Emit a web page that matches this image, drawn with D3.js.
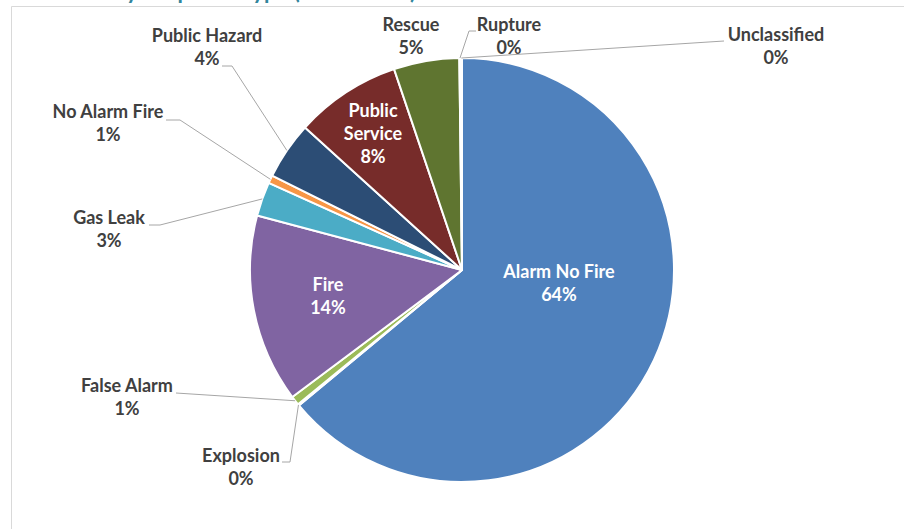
<!DOCTYPE html>
<html>
<head>
<meta charset="utf-8">
<script src="https://cdn.jsdelivr.net/npm/d3@7"></script>
<style>
  html, body { margin: 0; padding: 0; background: #fff; }
  svg { display: block; }
</style>
</head>
<body>
<svg id="chart" width="904" height="529"></svg>
<script>
// Response types, clockwise from 12 o'clock
const categories = ["Alarm No Fire", "Explosion", "False Alarm", "Fire", "Gas Leak",
  "No Alarm Fire", "Public Hazard", "Public Service", "Rescue", "Rupture", "Unclassified"];
// Share of incidents (percent)
const shares = [64.1, 0.1, 0.7, 14.4, 2.6, 0.6, 4.4, 8.1, 5.0, 0.1, 0.1];
const sliceColors = ["#4F81BD", "#C0504D", "#9BBB59", "#8064A2", "#4BACC6", "#F79646",
  "#2C4D75", "#772C2A", "#5F7530", "#4D3B62", "#276A7C"];
const titleText = "Incidents by Response Type (2017-2018)";

const W = 904, H = 529;
const cx = 462, cy = 270, R = 212;
const font = "Lato, 'Open Sans', sans-serif";

const svg = d3.select("#chart");

// title, sitting mostly above the top edge
svg.append("text")
  .attr("x", 416).attr("y", -1.5)
  .attr("text-anchor", "end")
  .attr("font-family", font).attr("font-weight", 700)
  .attr("font-size", 22).attr("fill", "#31859C")
  .text(titleText);

// chart area frame
svg.append("path")
  .attr("d", `M11.5,${H} V6.5 H${W}`)
  .attr("fill", "none").attr("stroke", "#D9D9D9").attr("stroke-width", 1);

const total = d3.sum(shares);
const data = categories.map((c, i) => ({ name: c, value: shares[i], color: sliceColors[i] }));
const pct = d => Math.round(d.value / total * 100) + "%";

const pie = d3.pie().value(d => d.value).sort(null);
const arcs = pie(data);
const arc = d3.arc().innerRadius(0).outerRadius(R);

const g = svg.append("g").attr("transform", `translate(${cx},${cy})`);
g.selectAll("path.slice").data(arcs).join("path")
  .attr("class", "slice")
  .attr("d", arc)
  .attr("fill", d => d.data.color)
  .attr("stroke", "#fff").attr("stroke-width", 2).attr("stroke-linejoin", "round");

// labels drawn inside the slice (white)
const insideLayout = {
  "Alarm No Fire": { x: 559, y: 272, lines: ["Alarm No Fire"] },
  "Fire": { x: 328, y: 285, lines: ["Fire"] },
  "Public Service": { x: 373, y: 111, lines: ["Public", "Service"] }
};
// labels placed outside with leader lines: text centre of first line, leader elbow and end
const outsideLayout = {
  "Explosion": { x: 241, y: 456, elbow: [290, 462], end: [282, 462] },
  "False Alarm": { x: 127, y: 386, end: [176, 393] },
  "Gas Leak": { x: 109, y: 218, elbow: [160, 225], end: [149, 225] },
  "No Alarm Fire": { x: 108, y: 112, elbow: [180, 120], end: [166, 120] },
  "Public Hazard": { x: 207, y: 36, elbow: [232, 66], end: [222, 66] },
  "Rescue": { x: 411, y: 25 },
  "Rupture": { x: 509, y: 25, elbow: [469, 31], end: [476, 31] },
  "Unclassified": { x: 776, y: 35, end: [724, 41] }
};

const lineGap = 23;
const fs = 18;

arcs.forEach(a => {
  const name = a.data.name;
  if (insideLayout[name]) {
    const L = insideLayout[name];
    const lines = L.lines.concat([pct(a.data)]);
    lines.forEach((t, k) => {
      svg.append("text")
        .attr("x", L.x).attr("y", L.y + k * lineGap)
        .attr("dy", "0.35em")
        .attr("text-anchor", "middle")
        .attr("font-family", font).attr("font-weight", 700).attr("font-size", fs)
        .attr("fill", "#fff").text(t);
    });
  } else if (outsideLayout[name]) {
    const L = outsideLayout[name];
    if (L.end) {
      const mid = (a.startAngle + a.endAngle) / 2;
      const p0 = [cx + Math.sin(mid) * R, cy - Math.cos(mid) * R];
      const pts = [p0];
      if (L.elbow) pts.push(L.elbow);
      pts.push(L.end);
      svg.append("path")
        .attr("d", d3.line()(pts))
        .attr("fill", "none").attr("stroke", "#A6A6A6").attr("stroke-width", 1);
    }
    [name, pct(a.data)].forEach((t, k) => {
      svg.append("text")
        .attr("x", L.x).attr("y", L.y + k * lineGap)
        .attr("dy", "0.35em")
        .attr("text-anchor", "middle")
        .attr("font-family", font).attr("font-weight", 700).attr("font-size", fs)
        .attr("fill", "#404040").text(t);
    });
  }
});
</script>
</body>
</html>
